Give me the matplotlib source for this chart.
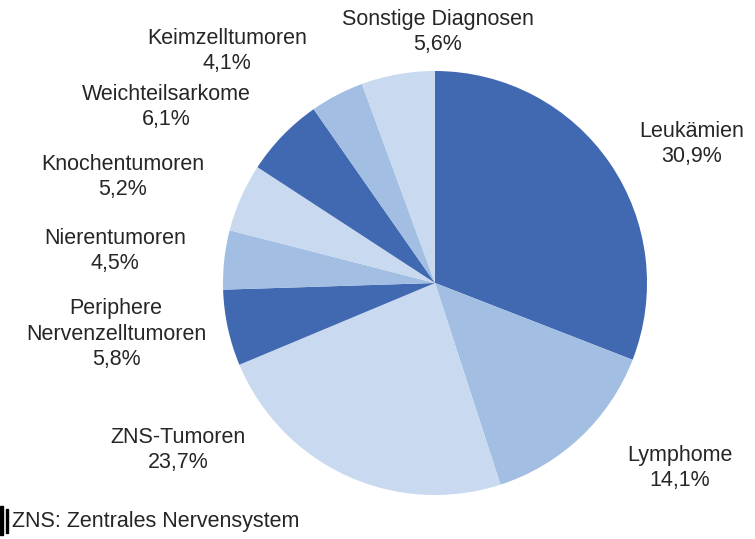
import matplotlib.pyplot as plt
from matplotlib.patches import Rectangle

plt.rcParams['font.family'] = ['Liberation Sans', 'DejaVu Sans']

labels = ["Leukämien", "Lymphome", "ZNS-Tumoren", "Periphere\nNervenzelltumoren",
          "Nierentumoren", "Knochentumoren", "Weichteilsarkome", "Keimzelltumoren",
          "Sonstige Diagnosen"]
values = [30.9, 14.1, 23.7, 5.8, 4.5, 5.2, 6.1, 4.1, 5.6]
dark, mid, light = "#4169B2", "#A2BEE3", "#C8D9F0"
colors = [dark, mid, light, dark, mid, light, dark, mid, light]
# label block centers in pixels
label_pos = [(692, 144), (680, 468), (178, 450), (116, 334), (115, 251),
             (123, 177), (166, 107), (227, 51), (438, 32)]

W, H = 755, 539
fig = plt.figure(figsize=(W / 100, H / 100), dpi=100)
cx, cy, r = 435, 283, 212
ax = fig.add_axes([(cx - r) / W, (H - cy - r) / H, 2 * r / W, 2 * r / H])
ax.pie(values, colors=colors, startangle=90, counterclock=False,
       wedgeprops=dict(linewidth=0))
ax.set_xlim(-1, 1)
ax.set_ylim(-1, 1)
ax.set_aspect('equal')
ax.axis('off')

for lab, v, (x, y) in zip(labels, values, label_pos):
    txt = lab + "\n" + f"{v:.1f}%".replace(".", ",")
    fig.text(x / W, 1 - y / H, txt, ha='center', va='center', fontsize=15.5,
             color='#262626', linespacing=1.27)

fig.text(12 / W, 1 - 521 / H, "ZNS: Zentrales Nervensystem", ha='left', va='center',
         fontsize=15.5, color='#262626')
fig.patches.append(Rectangle((0, 1 - 535 / H), 3 / W, 29 / H, transform=fig.transFigure,
                             color='black'))
fig.patches.append(Rectangle((6 / W, 1 - 533 / H), 1.5 / W, 24 / H, transform=fig.transFigure,
                             color='black'))

fig.savefig("out.png", dpi=100)
